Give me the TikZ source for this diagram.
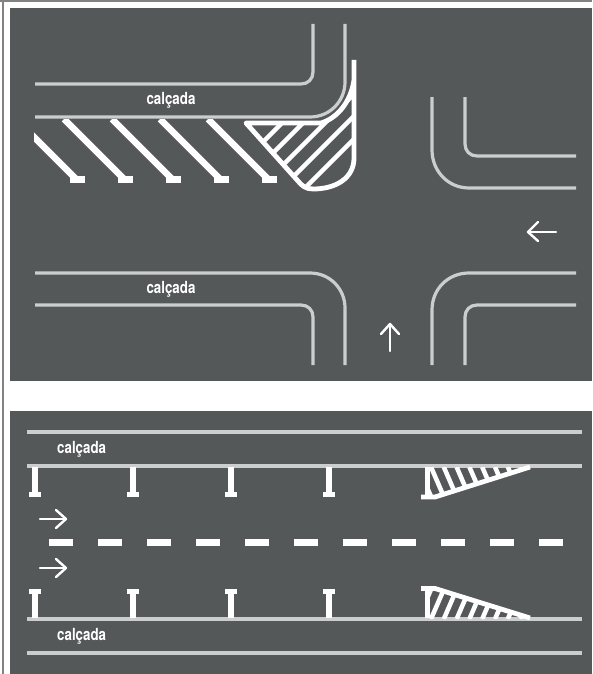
\documentclass[tikz,border=0pt]{standalone}
\usepackage{fontspec}
\usetikzlibrary{calc}
\setmainfont{TeX Gyre Heros}
\definecolor{asphalt}{RGB}{85,88,89}
\definecolor{kerb}{RGB}{204,205,205}
\definecolor{frameline}{RGB}{130,130,130}
\tikzset{
  kerbline/.style={draw=kerb,line width=2.4pt},
  paint/.style={draw=white,line width=4.8pt},
  thinpaint/.style={draw=white,line width=3.4pt},
  outlinepaint/.style={draw=white,line width=3.6pt,line join=round},
  hatchpaint/.style={draw=white,line width=3.4pt},
  footbox/.style={fill=white},
  dirarrow/.style={draw=white,line width=1.8pt,line cap=round,line join=round},
  sidewalk/.style={text=white,font=\fontsize{12.5}{14}\bfseries,inner sep=0pt,xscale=.8},
}
\begin{document}
\begin{tikzpicture}[x=0.75pt,y=-0.75pt]
\useasboundingbox (0,0) rectangle (592,674);
\fill[white] (0,0) rectangle (592,674);
\fill[frameline] (0,0) rectangle (592,2);
\fill[frameline] (2,0) rectangle (4,674);
\fill[asphalt] (10,8) rectangle (592,381);
\fill[asphalt] (10,411) rectangle (592,674);
% --- upper panel: kerbs
\draw[kerbline] (35,84) -- (301,84) .. controls (308,84) and (313,79) .. (313,72) -- (313,24);
\draw[kerbline] (35,117) -- (310,117) .. controls (330,117) and (345,101) .. (345,82) -- (345,24);
\draw[kerbline] (432,97) -- (432,150) .. controls (432,171) and (448,188) .. (469,188) -- (576,188);
\draw[kerbline] (465,97) -- (465,144) .. controls (465,151) and (470,156) .. (477,156) -- (576,156);
\draw[kerbline] (35,273) -- (310,273) .. controls (330,273) and (345,289) .. (345,308) -- (345,365);
\draw[kerbline] (35,305) -- (301,305) .. controls (308,305) and (313,310) .. (313,317) -- (313,365);
\draw[kerbline] (432,365) -- (432,310) .. controls (432,289) and (448,273) .. (469,273) -- (576,273);
\draw[kerbline] (465,365) -- (465,317) .. controls (465,310) and (470,305) .. (477,305) -- (576,305);
% --- upper panel: parking stripes
\begin{scope}
\clip (34,119) rectangle (300,190);
\foreach \dx in {-48,0,48,96,144}{
  \draw[paint] ($(64,119)+(\dx,0)$) -- ($(124,179)+(\dx,0)$);
}
\end{scope}
\foreach \dx in {0,48,96,144,192}{
  \fill[footbox] ($(70,176)+(\dx,0)$) rectangle ($(85,183)+(\dx,0)$);
}
% --- hatched corner
\begin{scope}
\clip (243,122) -- (321,122) .. controls (338,116) and (351,101) .. (354,84) -- (354,158) .. controls (354,178) and (336,189) .. (313,189) .. controls (306,189) and (302,186) .. (298,181) -- cycle;
\foreach \c in {405,426,448,470,493}{
  \draw[thinpaint] (240,\c-240) -- (370,\c-370);
}
\end{scope}
\draw[outlinepaint] (354,60) -- (354,158) .. controls (354,178) and (336,189) .. (313,189) .. controls (306,189) and (302,186) .. (298,181) -- (246,123) -- (321,123) .. controls (338,118) and (351,101) .. (354,80);
% --- labels and arrows
\node[sidewalk] (lbla) at (171,100.5) {calçada};
\node[sidewalk] (lblb) at (171,289.5) {calçada};
\draw[dirarrow] (556,232) -- (528,232);
\draw[dirarrow] (538,222) -- (528,232) -- (538,241);
\draw[dirarrow] (390,351) -- (390,324);
\draw[dirarrow] (381,334) -- (390,324) -- (399,334);
% --- lower panel
\foreach \y in {432,466,619,653}{
  \draw[kerbline] (27,\y) -- (582,\y);
}
\foreach \x in {35,133,231,329}{
  \fill[footbox] (\x-2.6,467) rectangle (\x+2.6,493);
  \fill[footbox] (\x-6,492) rectangle (\x+6,497);
  \fill[footbox] (\x-2.6,593) rectangle (\x+2.6,618);
  \fill[footbox] (\x-6,589) rectangle (\x+6,594);
}
\foreach \x in {49,98,...,539}{
  \fill[footbox] (\x,539) rectangle (\x+24,546);
}
\draw[dirarrow] (40,519) -- (66,519);
\draw[dirarrow] (56,510) -- (66,519) -- (56,528);
\draw[dirarrow] (40,568) -- (66,568);
\draw[dirarrow] (56,559) -- (66,568) -- (56,577);
\node[sidewalk,anchor=west] (lblc) at (57,449) {calçada};
\node[sidewalk,anchor=west] (lbld) at (57,636) {calçada};
% --- lower triangles
\begin{scope}
\clip (425,467) -- (425,497) -- (435,497) -- (530,467) -- cycle;
\foreach \k in {-1,0,...,8}{
  \draw[hatchpaint] ($(431,467)+(\k*12.8,0)$) -- ++(13,30);
}
\end{scope}
\draw[outlinepaint] (427.5,467) -- (427.5,496);
\draw[outlinepaint] (421,497) -- (435,497) -- (530,467);
\begin{scope}
\clip (425,619) -- (425,589) -- (435,589) -- (530,619) -- cycle;
\foreach \k in {-1,0,...,8}{
  \draw[hatchpaint] ($(431,619)+(\k*12.8,0)$) -- ++(13,-30);
}
\end{scope}
\draw[outlinepaint] (427.5,618) -- (427.5,589);
\draw[outlinepaint] (421,588.5) -- (435,588.5) -- (530,618);
\end{tikzpicture}
\end{document}
